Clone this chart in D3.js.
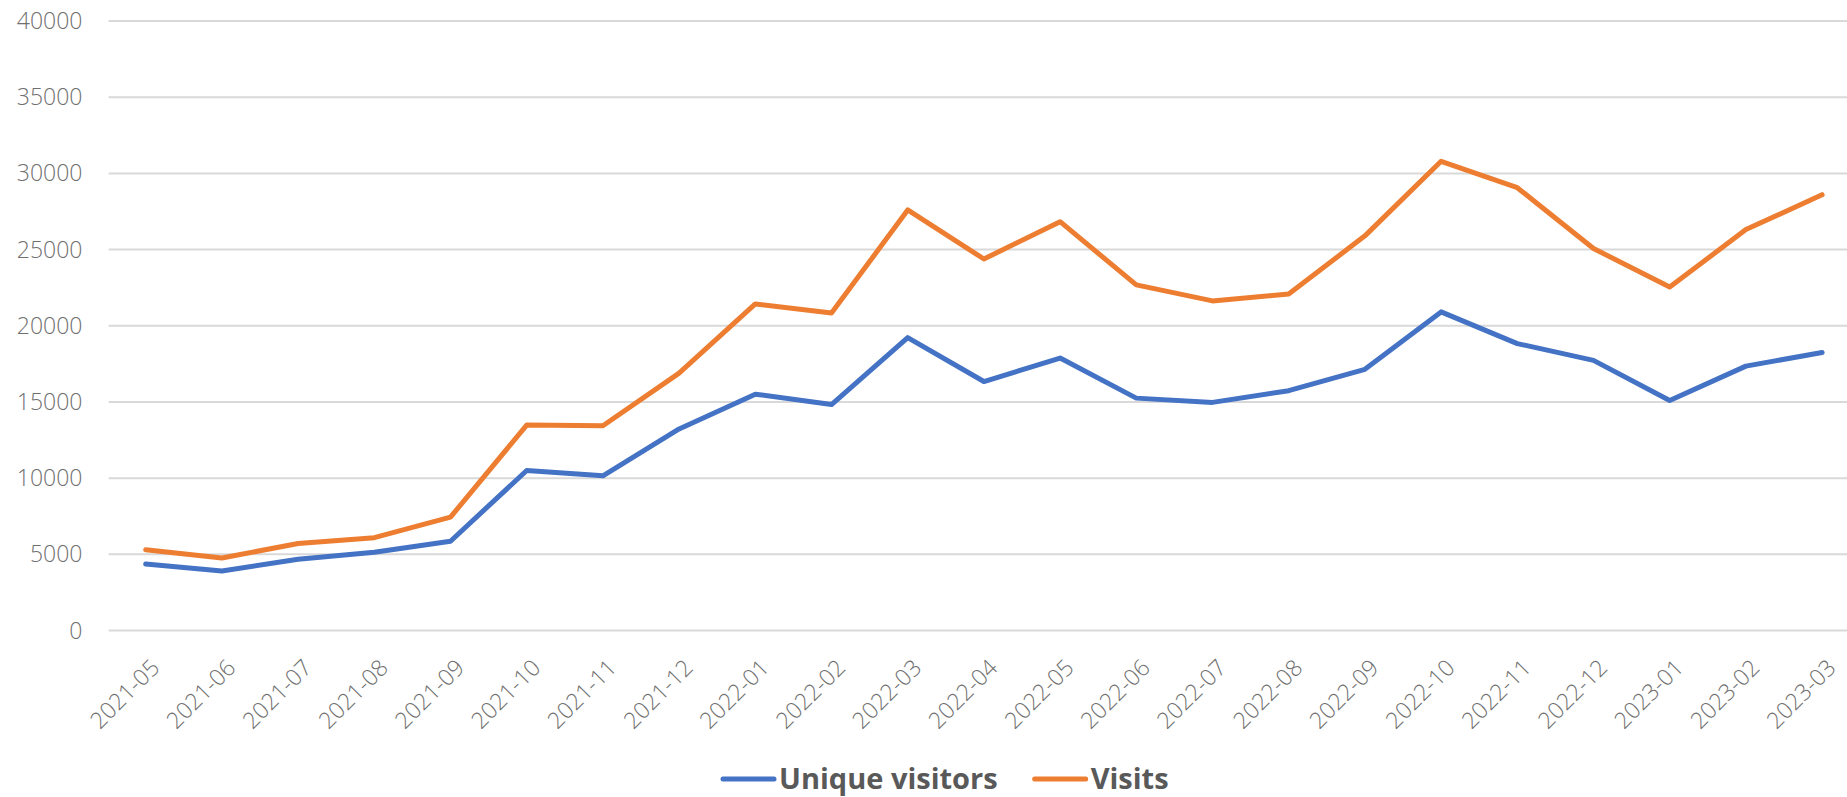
<!DOCTYPE html>
<html>
<head>
<meta charset="utf-8">
<script src="https://cdn.jsdelivr.net/npm/d3@7"></script>
<style>
  body { margin: 0; background: #fff; }
  svg { display: block; font-family: "Open Sans", sans-serif; }
</style>
</head>
<body>
<div id="line_chart"></div>
<script>
// data
var months = ["2021-05","2021-06","2021-07","2021-08","2021-09","2021-10","2021-11","2021-12",
  "2022-01","2022-02","2022-03","2022-04","2022-05","2022-06","2022-07","2022-08","2022-09",
  "2022-10","2022-11","2022-12","2023-01","2023-02","2023-03"];
var uniqueVisitors = [4360, 3910, 4670, 5140, 5860, 10500, 10150, 13230, 15510, 14830, 19220, 16340,
  17880, 15250, 14970, 15740, 17140, 20910, 18830, 17730, 15100, 17350, 18250];
var visits = [5300, 4760, 5710, 6090, 7440, 13480, 13440, 16890, 21430, 20830, 27600, 24380,
  26830, 22680, 21630, 22080, 25900, 30790, 29060, 25070, 22540, 26310, 28600];
var yTicks = [0, 5000, 10000, 15000, 20000, 25000, 30000, 35000, 40000];
var seriesNames = ["Unique visitors", "Visits"];
var seriesColors = ["#4472C4", "#ED7D31"];

var W = 1847, H = 797;
var plot = {left: 107.6, top: 21, bottom: 630.5};
var step = 76.2;

var svg = d3.select("#line_chart")
  .append("svg")
  .attr("width", W)
  .attr("height", H);

//scales
var xScale = d3.scaleBand()
  .domain(months)
  .range([plot.left, plot.left + step * months.length])
  .padding(0);
var yScale = d3.scaleLinear()
  .domain([0, 40000])
  .range([plot.bottom, plot.top]);

var xMid = function(d) { return xScale(d) + xScale.bandwidth() / 2; };

//gridlines
svg.append("g")
  .selectAll("line")
  .data(yTicks)
  .enter().append("line")
  .attr("x1", plot.left + 1)
  .attr("x2", W)
  .attr("y1", function(d) { return yScale(d); })
  .attr("y2", function(d) { return yScale(d); })
  .attr("stroke", "#D9D9D9")
  .attr("stroke-width", 2);

//y axis labels
svg.append("g")
  .selectAll("text")
  .data(yTicks)
  .enter().append("text")
  .attr("x", 82.5)
  .attr("y", function(d) { return yScale(d); })
  .attr("dy", "0.35em")
  .attr("text-anchor", "end")
  .style("font-size", "23px")
  .style("font-weight", 300)
  .style("fill", "#6f6f6f")
  .text(function(d) { return d; });

//x axis labels, rotated
svg.append("g")
  .selectAll("text")
  .data(months)
  .enter().append("text")
  .attr("transform", function(d) { return "translate(" + (xMid(d) + 3.5) + ",657.5) rotate(-45)"; })
  .attr("dy", "0.72em")
  .attr("text-anchor", "end")
  .style("font-size", "23px")
  .style("font-weight", 300)
  .style("fill", "#6f6f6f")
  .text(function(d) { return d; });

//lines
var line = d3.line()
  .x(function(d, i) { return xMid(months[i]); })
  .y(function(d) { return yScale(d); });

[uniqueVisitors, visits].forEach(function(values, k) {
  svg.append("path")
    .datum(values)
    .attr("d", line)
    .attr("fill", "none")
    .attr("stroke", seriesColors[k])
    .attr("stroke-width", 5)
    .attr("stroke-linejoin", "round")
    .attr("stroke-linecap", "round");
});

//legend
var legend = svg.append("g");
var lx = 721, ly = 779;
seriesNames.forEach(function(name, k) {
  legend.append("line")
    .attr("x1", lx + 2).attr("x2", lx + 53)
    .attr("y1", ly).attr("y2", ly)
    .attr("stroke", seriesColors[k])
    .attr("stroke-width", 5)
    .attr("stroke-linecap", "round");
  var t = legend.append("text")
    .attr("x", lx + 58)
    .attr("y", ly)
    .attr("dy", "0.36em")
    .style("font-size", "29px")
    .style("font-weight", 700)
    .style("fill", "#595959")
    .text(name);
  lx += 58 + t.node().getComputedTextLength() + 35;
});
</script>
</body>
</html>
